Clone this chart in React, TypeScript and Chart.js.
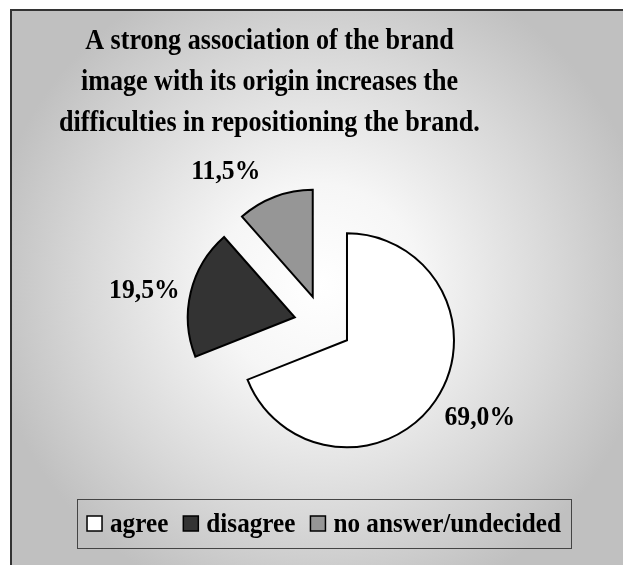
import { useEffect, useRef } from "react";
import { Chart, registerables } from "chart.js";

Chart.register(...registerables);

// Survey answers and their shares (percent)
const categories = ["agree", "disagree", "no answer/undecided"];
const shares = [69.0, 19.5, 11.5];
const sliceColors = ["#ffffff", "#333333", "#969696"];
const titleLines = [
  "A strong association of the brand",
  "image with its origin increases the",
  "difficulties in repositioning the brand.",
];

const SERIF = '"Liberation Serif", "Times New Roman", serif';
const EXPLODE = 29; // distance each slice is pulled away from the centre
const LABEL_DIST = 182;
const LABEL_NUDGE_DEG = [-3.7, -2.5, -11.6];

const formatShare = (v: number) => v.toFixed(1).replace(".", ",") + "%";

function drawText(
  ctx: CanvasRenderingContext2D,
  text: string,
  x: number,
  y: number,
  size: number,
  sx: number,
  align: CanvasTextAlign
) {
  ctx.save();
  ctx.font = `bold ${size}px ${SERIF}`;
  ctx.translate(x, y);
  ctx.scale(sx, 1);
  ctx.textAlign = align;
  ctx.textBaseline = "alphabetic";
  ctx.fillStyle = "#000000";
  ctx.fillText(text, 0, 0);
  ctx.restore();
}

function textWidth(ctx: CanvasRenderingContext2D, text: string, size: number, sx: number) {
  ctx.save();
  ctx.font = `bold ${size}px ${SERIF}`;
  const w = ctx.measureText(text).width * sx;
  ctx.restore();
  return w;
}

const backdrop = {
  id: "backdrop",
  beforeDraw(chart: any) {
    const { ctx, width, height } = chart;
    ctx.save();
    const g = ctx.createRadialGradient(320, 285, 0, 320, 285, 335);
    g.addColorStop(0, "#ffffff");
    g.addColorStop(0.3, "#f6f6f6");
    g.addColorStop(0.7, "#d8d8d8");
    g.addColorStop(1, "#c0c0c0");
    ctx.fillStyle = g;
    ctx.fillRect(11, 10, width, height);
    ctx.strokeStyle = "#333333";
    ctx.lineWidth = 2;
    ctx.strokeRect(11, 10, width + 20, height + 20);
    ctx.restore();
  },
};

const explode = {
  id: "explode",
  afterDatasetsUpdate(chart: any) {
    const { left, right, top, bottom } = chart.chartArea;
    const cx = (left + right) / 2;
    const cy = (top + bottom) / 2;
    chart.getDatasetMeta(0).data.forEach((arc: any) => {
      const mid = (arc.startAngle + arc.endAngle) / 2;
      arc.x = cx + Math.cos(mid) * EXPLODE;
      arc.y = cy + Math.sin(mid) * EXPLODE;
    });
  },
};

const decorations = {
  id: "decorations",
  afterDatasetsDraw(chart: any) {
    const { ctx } = chart;
    const { left, right, top, bottom } = chart.chartArea;
    const cx = (left + right) / 2;
    const cy = (top + bottom) / 2;

    // title
    const titleBaselines = [49, 90, 131];
    titleLines.forEach((line, i) => drawText(ctx, line, 269.5, titleBaselines[i], 30, 0.87, "center"));

    // value labels
    const values = chart.data.datasets[0].data as number[];
    chart.getDatasetMeta(0).data.forEach((arc: any, i: number) => {
      const mid = (arc.startAngle + arc.endAngle) / 2 + (LABEL_NUDGE_DEG[i] * Math.PI) / 180;
      const x = cx + Math.cos(mid) * LABEL_DIST;
      const y = cy + Math.sin(mid) * LABEL_DIST;
      drawText(ctx, formatShare(values[i]), x, y + 9, 27, 0.95, "center");
    });

    // legend
    const boxL = 77, boxT = 499, boxW = 494, boxH = 49;
    ctx.save();
    ctx.strokeStyle = "#444444";
    ctx.lineWidth = 1;
    ctx.strokeRect(boxL + 0.5, boxT + 0.5, boxW, boxH);
    ctx.restore();
    const size = 28, sx = 0.9, sq = 15, gapIn = 8, gapOut = 15;
    const labels = chart.data.labels as string[];
    const widths = labels.map((l) => textWidth(ctx, l, size, sx));
    const total = widths.reduce((a, w) => a + sq + gapIn + w, 0) + gapOut * (labels.length - 1);
    let x = boxL + boxW / 2 - total / 2;
    const baseline = 531.5;
    labels.forEach((l, i) => {
      ctx.save();
      ctx.fillStyle = sliceColors[i];
      ctx.fillRect(x, 516, sq, sq);
      ctx.strokeStyle = "#000000";
      ctx.lineWidth = 1.5;
      ctx.strokeRect(x, 516, sq, sq);
      ctx.restore();
      drawText(ctx, l, x + sq + gapIn, baseline, size, sx, "left");
      x += sq + gapIn + widths[i] + gapOut;
    });
  },
};

export default function App() {
  const canvasRef = useRef<HTMLCanvasElement | null>(null);

  useEffect(() => {
    if (!canvasRef.current) return;
    const chart = new Chart(canvasRef.current, {
      type: "pie",
      data: {
        labels: categories,
        datasets: [
          {
            data: shares,
            backgroundColor: sliceColors,
            borderColor: "#000000",
            borderWidth: 2,
            borderJoinStyle: "miter",
            radius: 107,
          } as any,
        ],
      },
      options: {
        responsive: false,
        animation: false,
        layout: { padding: { left: 173, right: 150, top: 174, bottom: 91 } },
        plugins: {
          legend: { display: false },
          title: { display: false },
          tooltip: { enabled: false },
        },
      },
      plugins: [backdrop, explode, decorations],
    });
    return () => chart.destroy();
  }, []);

  return (
    <div style={{ position: "absolute", left: 0, top: 0 }}>
      <canvas ref={canvasRef} width={623} height={565} style={{ display: "block" }} />
    </div>
  );
}
